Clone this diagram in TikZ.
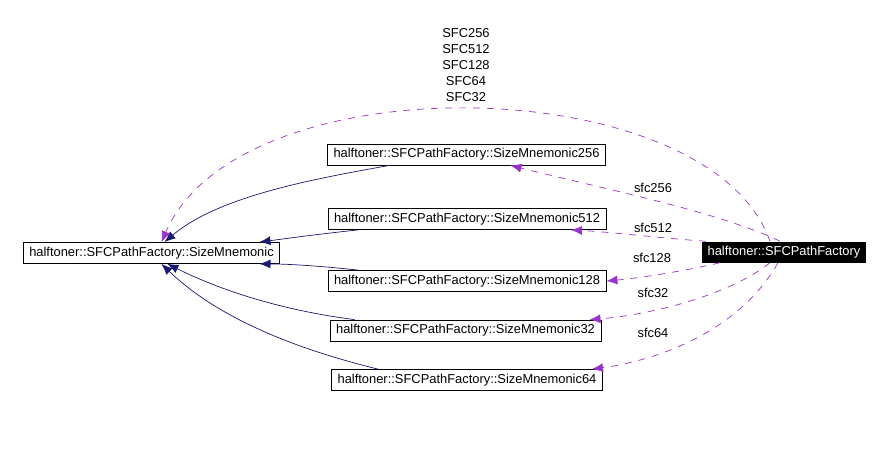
\documentclass[tikz,border=0pt]{standalone}
\usepackage{fontspec}
\setmainfont{Liberation Sans}
\usetikzlibrary{arrows.meta}
\definecolor{inh}{RGB}{25,25,112}
\definecolor{use}{RGB}{154,50,205}
\tikzset{
  cls/.style={draw=black, line width=0.8pt, fill=white, inner xsep=6pt, inner ysep=0pt, minimum height=21pt, font=\fontsize{12.9}{14}\selectfont},
  focus/.style={fill=black, text=white, inner xsep=6pt, inner ysep=0pt, minimum height=21pt, font=\fontsize{12.9}{14}\selectfont},
  inhedge/.style={draw=inh, line width=0.7pt, -{Latex[length=11pt,width=9pt]}},
  useedge/.style={draw=use, line width=0.7pt, dash pattern=on 7pt off 7pt, -{Latex[length=11pt,width=9pt]}},
  lbl/.style={font=\fontsize{12.9}{16}\selectfont, inner sep=0pt, align=center}
}
\begin{document}
\begin{tikzpicture}[x=1pt,y=-1pt]
\useasboundingbox (0,0) rectangle (889,452);
\node[cls] (base) at (151.5,253) {halftoner::SFCPathFactory::SizeMnemonic};
\node[cls] (s256) at (466.5,154.5) {halftoner::SFCPathFactory::SizeMnemonic256};
\node[cls] (s512) at (467,219) {halftoner::SFCPathFactory::SizeMnemonic512};
\node[cls] (s128) at (467,281) {halftoner::SFCPathFactory::SizeMnemonic128};
\node[cls] (s32) at (465.5,330.5) {halftoner::SFCPathFactory::SizeMnemonic32};
\node[cls] (s64) at (467,380) {halftoner::SFCPathFactory::SizeMnemonic64};
\node[focus] (pf) at (784,252) {halftoner::SFCPathFactory};

% inheritance
\draw[inhedge] ([xshift=-77]s256.south) .. controls (320,178) and (220,195) .. ([xshift=13]base.north);
\draw[inhedge] ([xshift=-109]s512.south) .. controls (320,234) and (290,238) .. ([xshift=108]base.north);
\draw[inhedge] ([xshift=-109]s128.north) .. controls (320,266) and (290,264) .. ([xshift=108]base.south);
\draw[inhedge] ([xshift=-111]s32.north) .. controls (280,310) and (220,290) .. ([xshift=16]base.south);
\draw[inhedge] ([xshift=-89]s64.north) .. controls (300,350) and (220,320) .. ([xshift=10]base.south);

% usage
\draw[useedge] ([xshift=-14]pf.north) .. controls (710,70) and (240,60) .. ([xshift=10]base.north);
\draw[useedge] ([xshift=-4]pf.north) .. controls (720,212) and (600,188) .. ([xshift=44]s256.south);
\draw[useedge] ([xshift=-78]pf.north) .. controls (660,238) and (610,232) .. ([xshift=104]s512.south);
\draw[useedge] ([xshift=-64]pf.south) .. controls (690,270) and (640,278) .. (s128.east);
\draw[useedge] ([xshift=-14]pf.south) .. controls (730,295) and (650,315) .. ([xshift=124]s32.north);
\draw[useedge] ([xshift=-6]pf.south) .. controls (740,330) and (660,360) .. ([xshift=125]s64.north);

% labels
\node[lbl] (top) at (466,65) {SFC256\\SFC512\\SFC128\\SFC64\\SFC32};
\node[lbl] (l256) at (653,188) {sfc256};
\node[lbl] (l512) at (653,228) {sfc512};
\node[lbl] (l128) at (652,258) {sfc128};
\node[lbl] (l32) at (653,293) {sfc32};
\node[lbl] (l64) at (653,333) {sfc64};
\end{tikzpicture}
\end{document}
